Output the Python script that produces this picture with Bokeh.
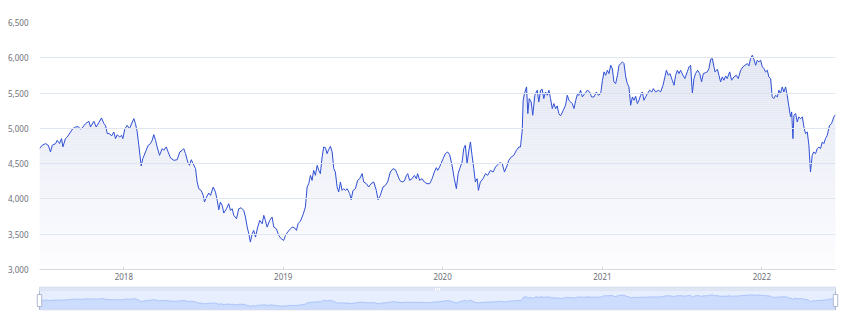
import numpy as np
from datetime import datetime
from bokeh.plotting import figure
from bokeh.layouts import column
from bokeh.models import Range1d, FixedTicker, NumeralTickFormatter, DatetimeTickFormatter
from bokeh.embed import file_html
from bokeh.resources import INLINE

# ---------------- data (decimal years, values) ----------------
t_2017 = [2017.471, 2017.488, 2017.509, 2017.526, 2017.540, 2017.551, 2017.572, 2017.582, 2017.597, 2017.609,
          2017.618, 2017.634, 2017.645, 2017.666, 2017.680, 2017.697, 2017.714, 2017.729, 2017.743, 2017.760,
          2017.781, 2017.791, 2017.812, 2017.827, 2017.843, 2017.860, 2017.875, 2017.885, 2017.896, 2017.910,
          2017.923, 2017.937, 2017.948, 2017.959, 2017.973, 2017.986, 2017.994]
v_2017 = [4713, 4760, 4784, 4760, 4665, 4760, 4784, 4830, 4784, 4855,
          4737, 4855, 4877, 4948, 4996, 5019, 5025, 4987, 5019, 5067,
          5100, 5019, 5100, 5019, 5080, 5147, 5067, 5040, 4926, 4926,
          4892, 4948, 4855, 4910, 4877, 4900, 4855]

t_2018 = [2018.006, 2018.021, 2018.036, 2018.053, 2018.063, 2018.073, 2018.084, 2018.094, 2018.109, 2018.119,
          2018.136, 2018.153, 2018.167, 2018.178, 2018.188, 2018.199, 2018.209, 2018.224, 2018.241, 2018.251,
          2018.266, 2018.278, 2018.293, 2018.314, 2018.335, 2018.351, 2018.366, 2018.376, 2018.387, 2018.401,
          2018.412, 2018.423, 2018.435, 2018.450, 2018.460, 2018.470, 2018.485, 2018.498, 2018.506, 2018.519,
          2018.533, 2018.544, 2018.561, 2018.575, 2018.586, 2018.596, 2018.606, 2018.617, 2018.627, 2018.644,
          2018.658, 2018.669, 2018.680, 2018.690, 2018.707, 2018.721, 2018.736, 2018.752, 2018.763, 2018.774,
          2018.784, 2018.794, 2018.805, 2018.815, 2018.826, 2018.840, 2018.853, 2018.868, 2018.878, 2018.888,
          2018.899, 2018.915, 2018.930, 2018.941, 2018.957, 2018.972, 2018.987]
v_2018 = [4987, 5043, 4996, 5090, 5138, 5067, 4948, 4760, 4466, 4570,
          4665, 4760, 4784, 4830, 4911, 4830, 4737, 4618, 4713, 4690,
          4737, 4665, 4580, 4547, 4556, 4665, 4688, 4712, 4641, 4523,
          4476, 4556, 4499, 4428, 4239, 4145, 4121, 4050, 3956, 4027,
          4083, 4050, 4168, 4097, 3979, 3847, 3956, 3908, 3800, 3861,
          3932, 3838, 3861, 3767, 3719, 3861, 3875, 3838, 3743, 3601,
          3507, 3388, 3507, 3554, 3459, 3601, 3696, 3648, 3767, 3696,
          3601, 3696, 3743, 3601, 3577, 3483, 3436]

t_2019 = [2019.003, 2019.014, 2019.028, 2019.045, 2019.056, 2019.070, 2019.083, 2019.093, 2019.108, 2019.125,
          2019.139, 2019.150, 2019.160, 2019.171, 2019.181, 2019.191, 2019.202, 2019.213, 2019.223, 2019.233,
          2019.244, 2019.254, 2019.265, 2019.275, 2019.285, 2019.296, 2019.307, 2019.317, 2019.327, 2019.338,
          2019.348, 2019.359, 2019.369, 2019.379, 2019.390, 2019.401, 2019.417, 2019.426, 2019.438, 2019.453,
          2019.467, 2019.480, 2019.495, 2019.505, 2019.522, 2019.536, 2019.551, 2019.568, 2019.584, 2019.595,
          2019.609, 2019.626, 2019.641, 2019.655, 2019.672, 2019.689, 2019.704, 2019.714, 2019.731, 2019.746,
          2019.760, 2019.773, 2019.781, 2019.793, 2019.808, 2019.823, 2019.835, 2019.843, 2019.856, 2019.871,
          2019.885, 2019.902, 2019.919, 2019.934, 2019.948, 2019.961, 2019.969, 2019.981]
v_2019 = [3412, 3483, 3530, 3577, 3601, 3592, 3554, 3648, 3685, 3780,
          3885, 4169, 4216, 4334, 4263, 4405, 4334, 4476, 4405, 4358,
          4594, 4736, 4726, 4641, 4698, 4745, 4665, 4429, 4381, 4169,
          4098, 4240, 4121, 4145, 4121, 4145, 4074, 3989, 4121, 4145,
          4263, 4287, 4358, 4240, 4216, 4169, 4216, 4240, 4121, 3989,
          4050, 4169, 4192, 4240, 4381, 4429, 4414, 4358, 4263, 4240,
          4254, 4334, 4358, 4263, 4287, 4334, 4287, 4358, 4263, 4287,
          4240, 4216, 4216, 4287, 4381, 4443, 4405, 4452]

t_2020 = [2020.003, 2020.017, 2020.031, 2020.044, 2020.059, 2020.073, 2020.086, 2020.097, 2020.107, 2020.122,
          2020.132, 2020.142, 2020.153, 2020.163, 2020.174, 2020.184, 2020.195, 2020.205, 2020.216, 2020.224,
          2020.236, 2020.253, 2020.268, 2020.282, 2020.299, 2020.316, 2020.331, 2020.345, 2020.357, 2020.373,
          2020.387, 2020.400, 2020.414, 2020.429, 2020.445, 2020.462, 2020.477, 2020.487, 2020.498, 2020.504,
          2020.512, 2020.525, 2020.533, 2020.542, 2020.554, 2020.564, 2020.577, 2020.592, 2020.602, 2020.613,
          2020.623, 2020.633, 2020.644, 2020.655, 2020.665, 2020.675, 2020.686, 2020.696, 2020.707, 2020.717,
          2020.727, 2020.738, 2020.755, 2020.769, 2020.780, 2020.790, 2020.801, 2020.811, 2020.822, 2020.832,
          2020.843, 2020.853, 2020.863, 2020.874, 2020.890, 2020.905, 2020.920, 2020.932, 2020.947, 2020.962,
          2020.974, 2020.989]
v_2020 = [4570, 4641, 4665, 4627, 4476, 4287, 4145, 4358, 4429, 4523,
          4712, 4760, 4500, 4665, 4807, 4618, 4429, 4240, 4287, 4121,
          4240, 4287, 4358, 4334, 4405, 4381, 4452, 4485, 4514, 4500,
          4381, 4452, 4547, 4594, 4618, 4689, 4736, 4736, 4972, 5398,
          5492, 5587, 5209, 5422, 5374, 5185, 5469, 5540, 5374, 5540,
          5554, 5422, 5516, 5469, 5540, 5422, 5280, 5351, 5280, 5318,
          5209, 5176, 5256, 5327, 5469, 5398, 5374, 5351, 5280, 5390,
          5480, 5469, 5540, 5445, 5492, 5540, 5516, 5445, 5445, 5516,
          5469, 5492]

t_2021 = [2021.000, 2021.010, 2021.020, 2021.031, 2021.041, 2021.052, 2021.062, 2021.072, 2021.083, 2021.094,
          2021.104, 2021.114, 2021.125, 2021.135, 2021.146, 2021.156, 2021.166, 2021.177, 2021.188, 2021.198,
          2021.208, 2021.219, 2021.229, 2021.240, 2021.250, 2021.260, 2021.271, 2021.282, 2021.296, 2021.309,
          2021.319, 2021.334, 2021.351, 2021.365, 2021.380, 2021.392, 2021.401, 2021.413, 2021.423, 2021.438,
          2021.449, 2021.459, 2021.470, 2021.480, 2021.490, 2021.505, 2021.517, 2021.532, 2021.543, 2021.553,
          2021.564, 2021.574, 2021.584, 2021.597, 2021.610, 2021.622, 2021.633, 2021.647, 2021.658, 2021.668,
          2021.679, 2021.689, 2021.706, 2021.721, 2021.731, 2021.741, 2021.752, 2021.762, 2021.773, 2021.783,
          2021.798, 2021.810, 2021.825, 2021.840, 2021.852, 2021.867, 2021.881, 2021.894, 2021.909, 2021.919,
          2021.929, 2021.940, 2021.950, 2021.961, 2021.971, 2021.981, 2021.992]
v_2021 = [5681, 5800, 5752, 5823, 5776, 5894, 5847, 5658, 5634, 5752,
          5894, 5918, 5942, 5918, 5729, 5634, 5587, 5327, 5445, 5398,
          5455, 5351, 5398, 5469, 5516, 5398, 5445, 5492, 5540, 5516,
          5563, 5516, 5540, 5516, 5611, 5729, 5823, 5752, 5776, 5681,
          5611, 5752, 5823, 5776, 5823, 5752, 5705, 5800, 5871, 5894,
          5492, 5705, 5776, 5823, 5776, 5658, 5776, 5790, 5800, 5847,
          5980, 5989, 5800, 5838, 5752, 5658, 5729, 5682, 5743, 5705,
          5800, 5682, 5729, 5752, 5705, 5823, 5871, 5894, 5918, 5885,
          5989, 6036, 5979, 5894, 5965, 5942, 5965]

t_2022 = [2022.003, 2022.013, 2022.023, 2022.034, 2022.044, 2022.055, 2022.065, 2022.075, 2022.086, 2022.097,
          2022.107, 2022.117, 2022.128, 2022.138, 2022.149, 2022.159, 2022.170, 2022.180, 2022.187, 2022.195,
          2022.201, 2022.212, 2022.222, 2022.232, 2022.243, 2022.254, 2022.264, 2022.274, 2022.285, 2022.295,
          2022.305, 2022.316, 2022.326, 2022.337, 2022.347, 2022.358, 2022.368, 2022.379, 2022.389, 2022.399,
          2022.410, 2022.425, 2022.437, 2022.452, 2022.462]
v_2022 = [5871, 5847, 5800, 5823, 5729, 5705, 5445, 5422, 5469, 5445,
          5540, 5492, 5587, 5516, 5587, 5469, 5303, 5162, 5233, 4854,
          5185, 5209, 5091, 5162, 5138, 5162, 5020, 4925, 4949, 4760,
          4381, 4618, 4665, 4641, 4712, 4736, 4712, 4807, 4783, 4854,
          4901, 5043, 5067, 5162, 5195]

y_ticks = [3000, 3500, 4000, 4500, 5000, 5500, 6000, 6500]
x_tick_years = [2018, 2019, 2020, 2021, 2022]

for a, b in [(t_2017, v_2017), (t_2018, v_2018), (t_2019, v_2019), (t_2020, v_2020), (t_2021, v_2021), (t_2022, v_2022)]:
    assert len(a) == len(b), (a[0], len(a), len(b))

years = t_2017 + t_2018 + t_2019 + t_2020 + t_2021 + t_2022
values = np.array(v_2017 + v_2018 + v_2019 + v_2020 + v_2021 + v_2022, dtype=float)

EPOCH = datetime(1970, 1, 1)


def to_ms(t):
    y = int(t)
    a = datetime(y, 1, 1)
    b = datetime(y + 1, 1, 1)
    d = a + (b - a) * (t - y)
    return (d - EPOCH).total_seconds() * 1000.0


xs = np.array([to_ms(t) for t in years])
x0, x1 = xs[0], xs[-1]

LINE = "#3050d4"
LABEL = "#6E7079"
FONT = "Noto Sans"
GRAD_TOP = (223, 227, 241)
GRAD_BOT = (253, 253, 255)

# ---------------- main chart ----------------
W = 846
H1 = 285
Y0, Y1 = 3000.0, 6500.0
FRAME_H = 247
p = figure(width=W, height=H1, x_axis_type="datetime",
           x_range=Range1d(x0, x1), y_range=Range1d(Y0, Y1),
           output_backend="svg", toolbar_location=None,
           min_border_left=39, min_border_right=11, min_border_top=22, min_border_bottom=16)
p.frame_align = False
p.outline_line_color = None
p.background_fill_color = "white"
p.border_fill_color = "white"
p.xgrid.visible = False
p.ygrid.grid_line_color = "#E0E6F1"
p.ygrid.grid_line_width = 1
p.ygrid.level = "overlay"

p.yaxis.ticker = FixedTicker(ticks=y_ticks)
p.yaxis.formatter = NumeralTickFormatter(format="0,0")
p.yaxis.axis_line_color = None
p.yaxis.major_tick_line_color = None
p.yaxis.minor_tick_line_color = None
p.yaxis.major_label_standoff = 5
p.yaxis.major_label_text_font = FONT
p.yaxis.major_label_text_font_size = "8px"
p.yaxis.major_label_text_color = LABEL

p.xaxis.ticker = FixedTicker(ticks=[to_ms(y) for y in x_tick_years])
p.xaxis.formatter = DatetimeTickFormatter(years="%Y", months="%Y", days="%Y", hours="%Y",
                                          minutes="%Y", seconds="%Y", milliseconds="%Y",
                                          microseconds="%Y", minsec="%Y", hourmin="%Y")
p.xaxis.axis_line_color = "#D5D9E2"
p.xaxis.major_tick_line_color = "#D5D9E2"
p.xaxis.major_tick_in = 3
p.xaxis.major_tick_out = 0
p.xaxis.minor_tick_line_color = None
p.xaxis.major_label_standoff = 3
p.xaxis.major_label_text_font = FONT
p.xaxis.major_label_text_font_size = "8px"
p.xaxis.major_label_text_color = LABEL

# gradient area under the line: opaque bands aligned to whole pixels
vmax = values.max()
val_per_px = (Y1 - Y0) / FRAME_H
px_top = int(np.floor((Y1 - vmax) / val_per_px))
px_bot = FRAME_H
STEP = 2
edges_px = list(range(px_bot, px_top - 1, -STEP))
if edges_px[-1] > px_top:
    edges_px.append(px_top)
for i in range(len(edges_px) - 1):
    a = Y1 - edges_px[i] * val_per_px
    b = Y1 - edges_px[i + 1] * val_per_px
    f = min(1.0, ((a + b) / 2 - Y0) / (vmax - Y0))
    col = tuple(int(round(GRAD_BOT[c] + (GRAD_TOP[c] - GRAD_BOT[c]) * f)) for c in range(3))
    p.varea(x=xs, y1=np.full_like(values, a), y2=np.clip(values, a, b),
            fill_color="#%02x%02x%02x" % col, fill_alpha=1.0)

p.line(xs, values, line_color=LINE, line_width=1)

# ---------------- navigator (data zoom) ----------------
H2 = 323 - H1
dpp = (x1 - x0) / 796.0
nx0 = x0 - 39 * dpp
nx1 = x1 + 11 * dpp
n = figure(width=W, height=H2, x_range=Range1d(nx0, nx1), y_range=Range1d(H2, 0),
           output_backend="svg", toolbar_location=None,
           min_border_left=0, min_border_right=0, min_border_top=0, min_border_bottom=0,
           x_axis_type=None, y_axis_type=None)
n.frame_align = False
n.outline_line_color = None
n.grid.visible = False
n.background_fill_color = "white"
n.border_fill_color = "white"

STRIP_TOP = 286.7 - H1
BOX_TOP = 290.7 - H1
BOX_BOT = 309.3 - H1

# move-handle strip
n.quad(left=[x0], right=[x1], top=[STRIP_TOP], bottom=[BOX_TOP],
       fill_color="#D2DBEE", fill_alpha=0.7, line_color=None)
# filler (selected range)
n.quad(left=[x0], right=[x1], top=[BOX_TOP], bottom=[BOX_BOT],
       fill_color="#87AFFF", fill_alpha=0.2, line_color=None)
# data shadow
rng = values.max() - values.min()
lo = values.min() - 0.3 * rng
hi = values.max() + 0.3 * rng
sy = BOX_BOT - (values - lo) / (hi - lo) * (BOX_BOT - BOX_TOP)
n.varea(x=xs, y1=np.full_like(sy, BOX_BOT), y2=sy, fill_color="#8FB0F7", fill_alpha=0.3)
n.line(xs, sy, line_color="#8FB0F7", line_width=0.6)
# border
n.quad(left=[x0], right=[x1], top=[STRIP_TOP], bottom=[BOX_BOT],
       fill_color=None, line_color="#D2DBEE", line_width=1)
# grip on the strip
cx = 0.5 * (x0 + x1)
n.rect(x=[cx - 2 * dpp, cx, cx + 2 * dpp], y=[0.5 * (STRIP_TOP + BOX_TOP)] * 3,
       width=1, height=2.5, width_units="screen", height_units="screen",
       fill_color="white", line_color=None)
# handles
for hx in (x0, x1):
    n.segment(x0=[hx], y0=[BOX_TOP], x1=[hx], y1=[BOX_BOT], line_color="#ACB8D1", line_width=1)
    n.rect(x=[hx], y=[0.5 * (BOX_TOP + BOX_BOT)], width=4.5, height=12,
           width_units="screen", height_units="screen",
           fill_color="white", line_color="#ACB8D1", line_width=1)

layout = column(p, n, spacing=0)
open("out.html", "w").write(file_html(layout, INLINE))
